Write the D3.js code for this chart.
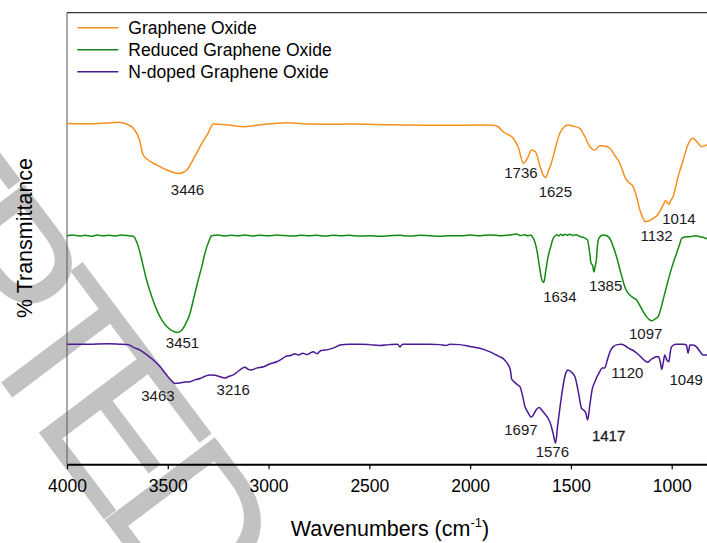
<!DOCTYPE html>
<html>
<head>
<meta charset="utf-8">
<script src="https://cdn.jsdelivr.net/npm/d3@7"></script>
<style>
  body { margin: 0; background: #fff; }
  svg { display: block; }
  text { font-family: "Liberation Sans", Arial, Helvetica, sans-serif; }
</style>
</head>
<body>
<svg id="chart" width="707" height="543"></svg>
<script>
// FTIR spectra: [wavenumber (cm-1), transmittance (offset, arbitrary %)]
const grapheneOxide = [
  [4000,75.47],[3900,75.40],[3800,75.58],[3746,75.73],[3700,75.24],[3671,74.40],[3640,71.81],
  [3622,68.49],[3590,67.16],[3555,66.28],[3505,65.17],[3470,64.61],[3446,64.40],[3420,64.73],
  [3406,65.17],[3370,67.83],[3340,70.33],[3300,73.36],[3274,75.35],[3200,75.13],[3125,74.76],
  [3050,75.13],[2910,75.64],[2795,75.35],[2700,75.29],[2596,75.35],[2400,75.20],[2100,75.07],
  [1950,75.13],[1886,75.07],[1860,74.69],[1836,73.65],[1786,72.19],[1760,70.04],[1736,66.65],
  [1715,67.83],[1695,69.60],[1675,69.16],[1655,66.28],[1638,64.10],[1625,63.50],[1610,65.20],
  [1600,66.28],[1588,68.11],[1555,73.30],[1514,75.13],[1490,74.91],[1456,74.40],[1430,72.48],
  [1406,70.33],[1381,69.60],[1356,70.55],[1330,70.48],[1307,69.97],[1280,68.27],[1257,66.65],
  [1230,63.40],[1216,62.58],[1191,61.47],[1170,58.53],[1158,56.31],[1140,54.32],[1132,53.70],
  [1115,53.87],[1092,54.47],[1070,55.21],[1059,55.93],[1040,57.60],[1030,58.40],[1022,57.90],
  [1014,57.60],[1005,58.40],[993,59.26],[970,63.40],[943,67.38],[920,70.70],[894,72.19],
  [870,71.15],[852,70.33],[826,70.70],[800,71.15]
];

const reducedGrapheneOxide = [
  [4000,50.6],[3970,50.75],[3940,50.55],[3910,50.7],[3880,50.5],[3850,50.75],[3820,50.6],
  [3790,50.7],[3760,50.55],[3730,50.75],[3700,50.65],[3671,50.5],[3646,48.2],[3625,44.5],
  [3605,40.8],[3580,37.2],[3555,34.2],[3530,32.0],[3505,30.5],[3480,29.6],[3465,29.3],
  [3451,29.2],[3431,29.7],[3410,31.2],[3390,33.4],[3370,37.0],[3349,40.8],[3330,44.0],
  [3316,46.7],[3295,49.5],[3282,50.6],[3250,50.75],[3220,50.55],[3190,50.7],[3150,50.6],
  [3120,50.75],[3080,50.55],[3050,50.7],[3000,50.6],[2960,50.75],[2920,50.65],[2880,50.55],
  [2840,50.7],[2800,50.6],[2760,50.7],[2720,50.55],[2680,50.7],[2640,50.6],[2600,50.7],
  [2550,50.55],[2500,50.6],[2450,50.5],[2400,50.6],[2350,50.7],[2300,50.55],[2250,50.7],
  [2200,50.6],[2150,50.5],[2100,50.6],[2050,50.6],[2000,50.75],[1950,50.6],[1900,50.8],
  [1850,50.6],[1800,50.8],[1770,51.0],[1750,50.65],[1730,50.85],[1715,50.6],[1700,50.75],
  [1690,50.3],[1680,49.4],[1668,47.2],[1655,43.5],[1645,41.0],[1634,40.3],[1625,42.8],
  [1613,46.0],[1600,48.2],[1590,49.8],[1580,50.5],[1570,50.85],[1560,50.55],[1550,50.95],
  [1540,50.65],[1530,50.95],[1520,50.7],[1505,50.95],[1490,50.65],[1475,50.85],[1456,50.45],
  [1435,50.2],[1418,49.7],[1408,47.2],[1400,44.5],[1392,44.0],[1388,42.9],[1385,42.6],
  [1380,43.8],[1374,45.2],[1369,48.0],[1364,49.7],[1352,50.6],[1340,50.8],[1322,50.6],
  [1307,50.0],[1290,48.2],[1274,46.0],[1250,42.0],[1230,39.0],[1216,37.9],[1195,37.0],
  [1174,36.4],[1150,34.5],[1125,32.7],[1110,32.0],[1097,31.8],[1082,32.2],[1067,32.7],
  [1045,36.0],[1026,39.3],[1000,43.5],[976,46.7],[960,48.8],[951,50.0],[930,50.4],
  [910,50.4],[880,50.6],[861,50.4],[840,50.2],[828,50.0],[800,50.1]
];

const nDopedGrapheneOxide = [
  [4000,26.6],[3900,26.6],[3800,26.7],[3740,26.6],[3696,26.5],[3670,25.9],[3638,25.3],
  [3605,24.3],[3572,23.1],[3540,21.7],[3510,20.0],[3490,18.9],[3475,18.2],[3463,17.9],
  [3440,18.0],[3415,18.2],[3390,18.3],[3365,18.7],[3340,19.0],[3315,19.5],[3291,19.8],
  [3265,19.7],[3241,19.4],[3228,19.2],[3216,19.1],[3200,19.4],[3175,19.8],[3150,20.6],
  [3130,21.3],[3117,21.5],[3100,21.0],[3084,20.9],[3060,21.3],[3025,21.6],[2995,22.2],
  [2960,22.7],[2935,23.3],[2910,24.0],[2890,24.1],[2870,24.5],[2852,24.2],[2830,24.6],
  [2810,24.3],[2795,24.6],[2778,24.9],[2760,24.5],[2740,25.2],[2720,25.3],[2696,25.5],
  [2670,25.9],[2646,26.4],[2600,26.6],[2547,26.6],[2500,26.5],[2450,26.3],[2400,26.5],
  [2360,26.6],[2348,26.0],[2335,26.6],[2300,26.6],[2250,26.6],[2200,26.6],[2150,26.5],
  [2120,26.3],[2100,26.6],[2050,26.5],[2001,26.1],[1952,25.7],[1901,24.9],[1870,24.2],
  [1852,23.8],[1836,23.4],[1815,22.3],[1800,20.8],[1794,18.9],[1780,18.2],[1765,17.6],
  [1753,17.2],[1740,15.2],[1728,12.8],[1712,11.4],[1697,10.4],[1682,11.3],[1668,12.3],
  [1657,12.6],[1645,12.0],[1630,11.2],[1613,10.2],[1600,8.8],[1588,6.8],[1576,4.7],
  [1566,8.5],[1556,12.0],[1542,16.5],[1527,20.0],[1514,20.9],[1500,20.5],[1480,19.4],
  [1465,16.5],[1447,12.4],[1435,11.9],[1425,11.2],[1417,9.8],[1405,13.5],[1395,16.5],
  [1381,18.3],[1357,20.5],[1345,21.3],[1332,21.3],[1320,23.0],[1305,25.0],[1291,26.0],
  [1270,26.5],[1250,26.6],[1230,26.2],[1210,25.6],[1191,25.2],[1165,24.3],[1140,23.2],
  [1120,22.6],[1105,23.1],[1092,23.5],[1075,23.8],[1065,23.8],[1056,22.5],[1049,21.0],
  [1042,22.5],[1034,24.2],[1025,23.2],[1014,22.7],[1008,24.5],[1001,26.0],[980,26.6],
  [960,26.6],[940,26.6],[927,26.4],[922,25.3],[919,24.6],[914,25.5],[910,26.4],[895,26.4],
  [877,26.0],[860,25.0],[844,24.2],[826,24.2],[800,24.3]
];

const seriesNames = ["Graphene Oxide", "Reduced Graphene Oxide", "N-doped Graphene Oxide"];
const seriesColors = ["#f7901e", "#138a13", "#4b1896"];
const seriesData = [grapheneOxide, reducedGrapheneOxide, nDopedGrapheneOxide];

// Peak annotations: wavenumber, and where the label sits (wavenumber, transmittance)
const peakLabels = [
  { peak: 3446, at: [3402, 59.6] },
  { peak: 1736, at: [1748, 63.4] },
  { peak: 1625, at: [1577, 59.2] },
  { peak: 1014, at: [964, 53.2] },
  { peak: 1132, at: [1075, 49.5] },
  { peak: 3451, at: [3427, 25.7] },
  { peak: 1634, at: [1555, 36.0] },
  { peak: 1385, at: [1328, 38.4] },
  { peak: 1097, at: [1129, 27.8] },
  { peak: 3463, at: [3549, 14.1] },
  { peak: 3216, at: [3175, 15.3] },
  { peak: 1697, at: [1748, 6.5] },
  { peak: 1576, at: [1592, 1.7] },
  { peak: 1417, at: [1313, 5.2], heavy: true },
  { peak: 1120, at: [1220, 19.0] },
  { peak: 1049, at: [928, 17.6] }
];

const xTicks = [4000, 3500, 3000, 2500, 2000, 1500, 1000];

const svg = d3.select("#chart");
const margin = { left: 67, top: 12.7, right: 712, bottom: 464.3 };

const x = d3.scaleLinear().domain([4000, 800]).range([margin.left, margin.right]);
const y = d3.scaleLinear().domain([0, 100]).range([margin.bottom, margin.top]);

// Background watermark lettering
svg.append("text")
  .attr("transform", "translate(-372.5,-113.2) rotate(53)")
  .attr("font-size", 200)
  .attr("letter-spacing", -24)
  .attr("fill", "#c2c2c2")
  .text("ACCEPTED");

// Frame: thin left and top edges
svg.append("line")
  .attr("x1", margin.left).attr("x2", margin.left)
  .attr("y1", margin.top).attr("y2", margin.bottom)
  .attr("stroke", "#555").attr("stroke-width", 1);
svg.append("line")
  .attr("x1", margin.left).attr("x2", margin.right)
  .attr("y1", margin.top).attr("y2", margin.top)
  .attr("stroke", "#333").attr("stroke-width", 1.2);

// Spectra
const line = d3.line().x(d => x(d[0])).y(d => y(d[1])).curve(d3.curveMonotoneX);
svg.append("g").selectAll("path")
  .data(seriesData)
  .join("path")
  .attr("d", line)
  .attr("fill", "none")
  .attr("stroke", (d, i) => seriesColors[i])
  .attr("stroke-width", 1.5)
  .attr("stroke-linejoin", "round");

// Bottom axis
const xAxis = d3.axisBottom(x).tickValues(xTicks).tickFormat(d3.format("d"))
  .tickSizeInner(5).tickSizeOuter(0).tickPadding(10);
const gx = svg.append("g").attr("transform", `translate(0,${margin.bottom})`).call(xAxis);
gx.select(".domain").attr("stroke", "#000").attr("stroke-width", 2);
gx.selectAll(".tick line").attr("stroke", "#000").attr("stroke-width", 1.2);
gx.selectAll(".tick text").attr("font-size", 17.5).attr("fill", "#000")
  .attr("font-family", '"Liberation Sans", Arial, sans-serif');

// Axis titles
const xTitle = svg.append("text")
  .attr("x", 390).attr("y", 536)
  .attr("text-anchor", "middle")
  .attr("font-size", 21.5).attr("fill", "#000");
xTitle.append("tspan").text("Wavenumbers (cm");
xTitle.append("tspan").attr("font-size", 13).attr("dy", -9).text("-1");
xTitle.append("tspan").attr("dy", 9).text(")");

svg.append("text")
  .attr("transform", "translate(31.5,238) rotate(-90)")
  .attr("text-anchor", "middle")
  .attr("font-size", 21.5).attr("fill", "#000")
  .text("% Transmittance");

// Peak labels
svg.append("g").selectAll("text")
  .data(peakLabels)
  .join("text")
  .attr("x", d => x(d.at[0]))
  .attr("y", d => y(d.at[1]))
  .attr("text-anchor", "middle")
  .attr("font-size", 15)
  .attr("fill", "#1a1a1a")
  .attr("stroke", d => d.heavy ? "#1a1a1a" : "none")
  .attr("stroke-width", 0.3)
  .text(d => d.peak);

// Legend
const legend = svg.append("g").selectAll("g")
  .data(seriesNames)
  .join("g")
  .attr("transform", (d, i) => `translate(77.3,${27.7 + i * 22})`);
legend.append("line")
  .attr("x1", 0).attr("x2", 41)
  .attr("stroke", (d, i) => seriesColors[i]).attr("stroke-width", 1.5);
legend.append("text")
  .attr("x", 51).attr("y", 6)
  .attr("font-size", 17.5).attr("fill", "#000")
  .text(d => d);
</script>
</body>
</html>
